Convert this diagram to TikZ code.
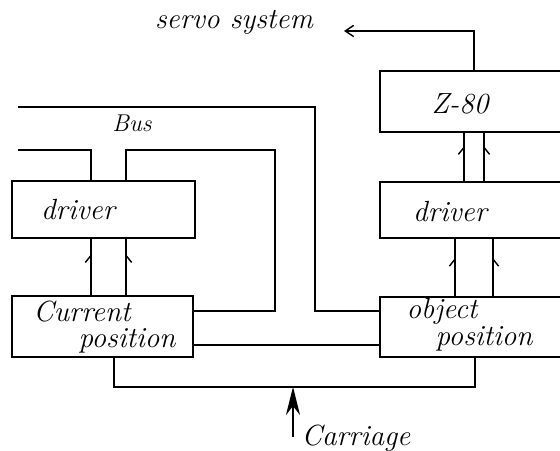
\documentclass[tikz,border=0pt]{standalone}
\usetikzlibrary{arrows.meta,decorations.markings}
\tikzset{
  box/.style={draw, rectangle, inner sep=0pt},
  hand/.style={font=\itshape\huge, inner sep=0pt},
  upmark/.style={postaction={decorate}, decoration={markings,
      mark=at position #1 with {\arrow{Straight Barb[harpoon, length=5pt, width=8pt]}}}},
  upmarkr/.style={postaction={decorate}, decoration={markings,
      mark=at position #1 with {\arrow{Straight Barb[harpoon, swap, length=5pt, width=8pt]}}}},
}
\begin{document}
\begin{tikzpicture}[x=0.025cm, y=-0.025cm, line width=1pt, >=Stealth]
  \useasboundingbox (0,0) rectangle (560,451);
  \clip (0,0) rectangle (560,451);
  % boxes
  \node[box, minimum width=4.575cm, minimum height=1.425cm] (drvL) at (103.5,209.5) {};
  \node[box, minimum width=4.525cm, minimum height=1.525cm] (curpos) at (102.5,326.5) {};
  \node[box, minimum width=5.5cm, minimum height=1.525cm] (zeighty) at (490,101.5) {};
  \node[box, minimum width=5.5cm, minimum height=1.4cm] (drvR) at (490,210) {};
  \node[box, minimum width=5.5cm, minimum height=1.5cm] (objpos) at (490,327) {};
  % texts
  \node[hand] (tdrvL) at (78,210) {driver};
  \node[hand] (tcur) at (82,312) {Current};
  \node[hand] (tcurpos) at (127,341) {position};
  \node[hand] (tz) at (460,104) {Z-80};
  \node[hand] (tdrvR) at (450,212) {driver};
  \node[hand] (tobj) at (442,311) {object};
  \node[hand] (tobjpos) at (484,339) {position};
  \node[hand] (tservo) at (234,22) {servo system};
  \node[hand, font=\itshape\LARGE] (tbus) at (132,123) {Bus};
  \node[hand] (tcarr) at (356,438) {Carriage};
  % bus
  \coordinate (busL) at (18,107);
  \coordinate (stubL) at (18,150);
  \draw (busL) -| (315,311) -- (objpos.west |- 0,311);
  \draw (stubL) -| (drvL.north -| 91,0);
  \draw (drvL.north -| 126,0) |- (275,150) |- (curpos.east |- 0,311);
  \draw (curpos.east |- 0,345) -- (objpos.west |- 0,345);
  % signals up
  \draw[upmark=0.74] (curpos.north -| 91,0) -- (drvL.south -| 91,0);
  \draw[upmarkr=0.74] (curpos.north -| 126,0) -- (drvL.south -| 126,0);
  \draw[upmark=0.68] (objpos.north -| 455,0) -- (drvR.south -| 455,0);
  \draw[upmarkr=0.68] (objpos.north -| 493,0) -- (drvR.south -| 493,0);
  \draw[upmark=0.74] (drvR.north -| 464,0) -- (zeighty.south -| 464,0);
  \draw[upmarkr=0.74] (drvR.north -| 484,0) -- (zeighty.south -| 484,0);
  % carriage
  \coordinate (join) at (293,387);
  \coordinate (carr) at (293,437);
  \draw (curpos.south -| 114,0) |- (join) -| (objpos.south -| 475,0);
  \draw[-{Stealth[length=20pt, width=10pt]}] (carr) -- (join);
  % servo
  \coordinate (servo) at (344,31);
  \draw[-{Straight Barb[length=6pt, width=8pt]}] (zeighty.north -| 474,0) |- (servo);
\end{tikzpicture}
\end{document}
